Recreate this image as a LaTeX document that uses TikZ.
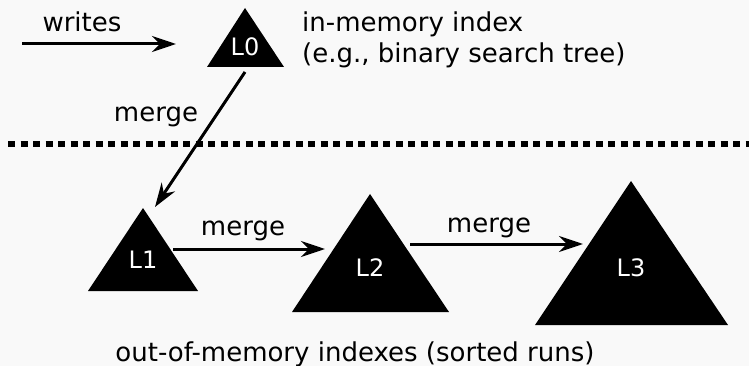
\documentclass[tikz,border=0pt]{standalone}
\usepackage{fontspec}
\setmainfont{DejaVu Sans}
\usetikzlibrary{arrows.meta}
\definecolor{paper}{RGB}{249,249,249}
\tikzset{
  txt/.style={font=\fontsize{26}{32}\selectfont, inner sep=0pt},
  lvl/.style={font=\fontsize{24}{28}\selectfont, text=white, inner sep=0pt, anchor=base},
  tri/.style={fill=black},
  flow/.style={line width=3pt, -{Stealth[length=24pt,width=16pt,inset=8pt]}},
  divider/.style={line width=6pt, dash pattern=on 7pt off 5.5pt}
}
\begin{document}
\begin{tikzpicture}[x=1pt,y=-1pt]
  % canvas
  \fill[paper] (0,0) rectangle (749,366);
  \useasboundingbox (0,0) rectangle (749,366);

  % memory boundary
  \draw[divider] (8,144) -- (749,144);

  % levels of the tree
  \fill[tri] (245,8) -- (207,67) -- (284,67) -- cycle;
  \fill[tri] (143,208) -- (88,291) -- (198,291) -- cycle;
  \fill[tri] (370,194) -- (292,312) -- (449,312) -- cycle;
  \fill[tri] (631,181) -- (535,325) -- (728,325) -- cycle;
  \node[lvl] (L0) at (245,56) {L0};
  \node[lvl] (L1) at (143,268) {L1};
  \node[lvl] (L2) at (370,276) {L2};
  \node[lvl] (L3) at (631,276) {L3};

  % connector end points
  \coordinate (win)   at (22,44);
  \coordinate (wout)  at (176,44);
  \coordinate (l0out) at (245,72);
  \coordinate (l1in)  at (155,207);
  \coordinate (l1out) at (173,249);
  \coordinate (l2in)  at (325,249);
  \coordinate (l2out) at (410,244);
  \coordinate (l3in)  at (583,244);

  \draw[flow] (win) -- (wout);
  \draw[flow] (l0out) -- (l1in);
  \draw[flow] (l1out) -- (l2in);
  \draw[flow] (l2out) -- (l3in);

  % labels
  \node[txt, anchor=base] (writes) at (82,32) {writes};
  \node[txt, anchor=base] (m01) at (156,122) {merge};
  \node[txt, anchor=base] (m12) at (243,235) {merge};
  \node[txt, anchor=base] (m23) at (489,232) {merge};
  \node[txt, anchor=base west] (mem1) at (302,32) {in-memory index};
  \node[txt, anchor=base west] (mem2) at (302,63) {(e.g., binary search tree)};
  \node[txt, anchor=base] (disk) at (355,361) {out-of-memory indexes (sorted runs)};
\end{tikzpicture}
\end{document}
